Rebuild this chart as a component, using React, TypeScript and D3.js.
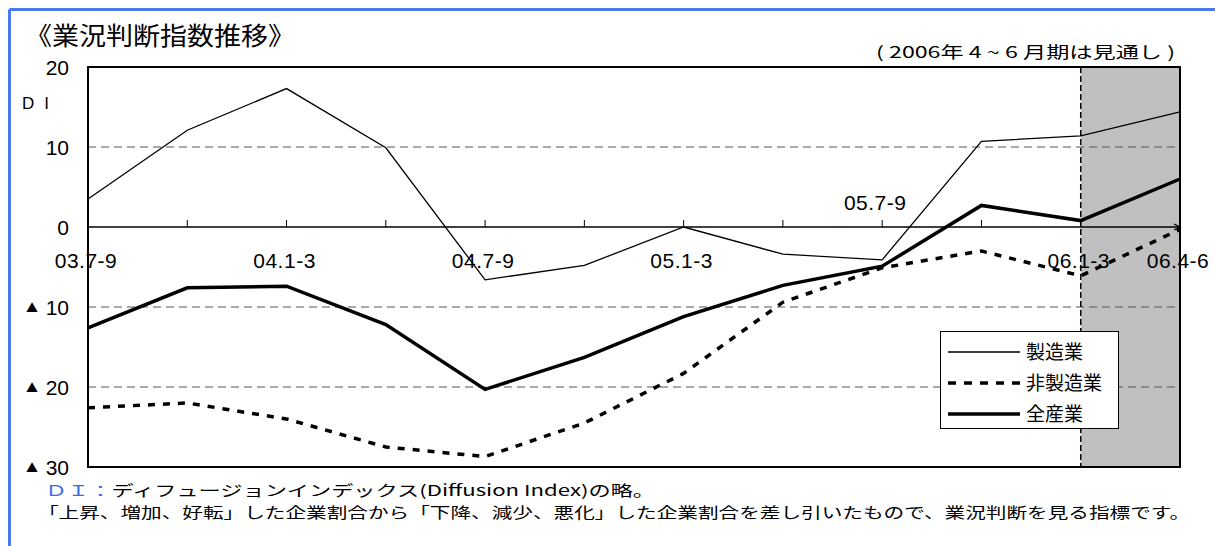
import React from "react";
import * as d3 from "d3";

const categories = ["03.7-9","03.10-12","04.1-3","04.4-6","04.7-9","04.10-12","05.1-3","05.4-6","05.7-9","05.10-12","06.1-3","06.4-6"];
const manufacturing = [3.5, 12.1, 17.3, 9.9, -6.6, -4.8, 0, -3.4, -4.1, 10.7, 11.4, 14.4];
const nonManufacturing = [-22.6, -22.0, -24.0, -27.5, -28.7, -24.5, -18.3, -9.4, -5.1, -3.0, -6.1, -0.3];
const allIndustries = [-12.6, -7.6, -7.4, -12.2, -20.3, -16.3, -11.2, -7.3, -4.9, 2.7, 0.8, 6.0];
const yTicks = [20, 10, 0, -10, -20, -30];
const yTickLabels = ["20", "10", "0", "10", "20", "30"];
const shownLabels = ["03.7-9", "04.1-3", "04.7-9", "05.1-3", "05.7-9", "06.1-3", "06.4-6"];
const legendNames = ["製造業", "非製造業", "全産業"];

const JP = "'Noto Sans CJK JP', sans-serif";
const NUM = "'Liberation Sans', Arial, sans-serif";

export default function App() {
  const W = 1215, H = 546;
  const left = 88, right = 1180, top = 67, bottom = 467;
  const x = d3.scalePoint<string>().domain(categories).range([left, right]);
  const y = d3.scaleLinear().domain([-30, 20]).range([bottom, top]);
  const line = d3.line<number>().x((_, i) => x(categories[i])!).y((d) => y(d));
  const shadeX0 = x("06.1-3")!;
  const shadeX1 = x("06.4-6")!;

  const series = [
    { name: legendNames[0], data: manufacturing, width: 1.3, dash: undefined as string | undefined },
    { name: legendNames[1], data: nonManufacturing, width: 3.5, dash: "7 8" },
    { name: legendNames[2], data: allIndustries, width: 3.5, dash: undefined },
  ];

  return (
    <svg width={W} height={H} style={{ position: "absolute", left: 0, top: 0, background: "#fff" }}>
      <rect x={0} y={0} width={W} height={H} fill="#fff" />
      {/* blue frame */}
      <line x1={9.5} y1={9.5} x2={W} y2={9.5} stroke="#4a78f0" strokeWidth={3} />
      <line x1={9.5} y1={9.5} x2={9.5} y2={H} stroke="#4a78f0" strokeWidth={3} />

      {/* title */}
      <text x={25} y={45} fontFamily={JP} fontSize={25} textLength={270} lengthAdjust="spacingAndGlyphs" fill="#000">《業況判断指数推移》</text>
      <text x={876} y={58} fontFamily={JP} fontSize={16} textLength={299} lengthAdjust="spacingAndGlyphs" fill="#000">( 2006年 4 ~ 6 月期は見通し )</text>

      {/* shading */}
      <rect x={shadeX0} y={top} width={shadeX1 - shadeX0} height={bottom - top} fill="#c0c0c0" />

      {/* gridlines */}
      {[10, -10, -20].map((v) => (
        <line key={v} x1={left} x2={right} y1={y(v)} y2={y(v)} stroke="#555" strokeWidth={1} strokeDasharray="8 5" />
      ))}

      {/* shade dashed boundary */}
      <line x1={shadeX0} x2={shadeX0} y1={top} y2={bottom} stroke="#000" strokeWidth={1.5} strokeDasharray="6 3" />

      {/* plot frame */}
      <rect x={left} y={top} width={right - left} height={bottom - top} fill="none" stroke="#000" strokeWidth={2} />

      {/* zero axis with ticks */}
      <line x1={left} x2={right} y1={y(0)} y2={y(0)} stroke="#000" strokeWidth={1.3} />
      <path d={`M${right - 6},${y(0) - 3} L${right},${y(0)} L${right - 6},${y(0) + 3}`} fill="none" stroke="#000" strokeWidth={1.3} />
      {categories.slice(1, -1).map((c) => (
        <line key={c} x1={x(c)!} x2={x(c)!} y1={y(0)} y2={y(0) - 7} stroke="#000" strokeWidth={1} />
      ))}

      {/* series */}
      {series.map((s) => (
        <path key={s.name} d={line(s.data)!} fill="none" stroke="#000" strokeWidth={s.width} strokeDasharray={s.dash} strokeLinejoin="miter" />
      ))}

      {/* x labels */}
      {shownLabels.map((c) => {
        const above = c === "05.7-9";
        return (
          <text key={c} x={x(c)! - (above ? 7 : 2)} y={above ? 210 : 268} fontFamily={NUM} fontSize={21} textAnchor="middle" letterSpacing={0.5} fill="#000">{c}</text>
        );
      })}

      {/* y labels */}
      {yTicks.map((v, i) => (
        <g key={v}>
          {v < 0 && (
            <text x={38} y={y(v) + 6} fontFamily={JP} fontSize={12} textAnchor="end" fill="#000">▲</text>
          )}
          <text x={69} y={y(v) + 8} fontFamily={NUM} fontSize={21} textAnchor="end" fill="#000">{yTickLabels[i]}</text>
        </g>
      ))}
      <text x={22} y={109} fontFamily={NUM} fontSize={17} fill="#000" letterSpacing={10}>DI</text>

      {/* legend */}
      <rect x={940.5} y={331.5} width={178} height={97} fill="#fff" stroke="#000" strokeWidth={1} />
      {series.map((s, i) => {
        const ly = 352 + i * 31;
        return (
          <g key={s.name}>
            <line x1={948} x2={1020} y1={ly} y2={ly} stroke="#000" strokeWidth={i === 0 ? 1.3 : 3.5} strokeDasharray={i === 1 ? "8 8" : undefined} />
            <text x={1026} y={ly + 7} fontFamily={JP} fontSize={19} fill="#000">{s.name}</text>
          </g>
        );
      })}

      {/* footnotes */}
      <text x={45} y={496} fontFamily={JP} fontSize={15} fill="#000" textLength={610} lengthAdjust="spacingAndGlyphs">
        <tspan fill="#3a6cf0">ＤＩ：</tspan>ディフュージョンインデックス(Diffusion Index)の略。
      </text>
      <text x={38} y={518} fontFamily={JP} fontSize={15} fill="#000" textLength={1152} lengthAdjust="spacingAndGlyphs">「上昇、増加、好転」した企業割合から「下降、減少、悪化」した企業割合を差し引いたもので、業況判断を見る指標です。</text>
    </svg>
  );
}
